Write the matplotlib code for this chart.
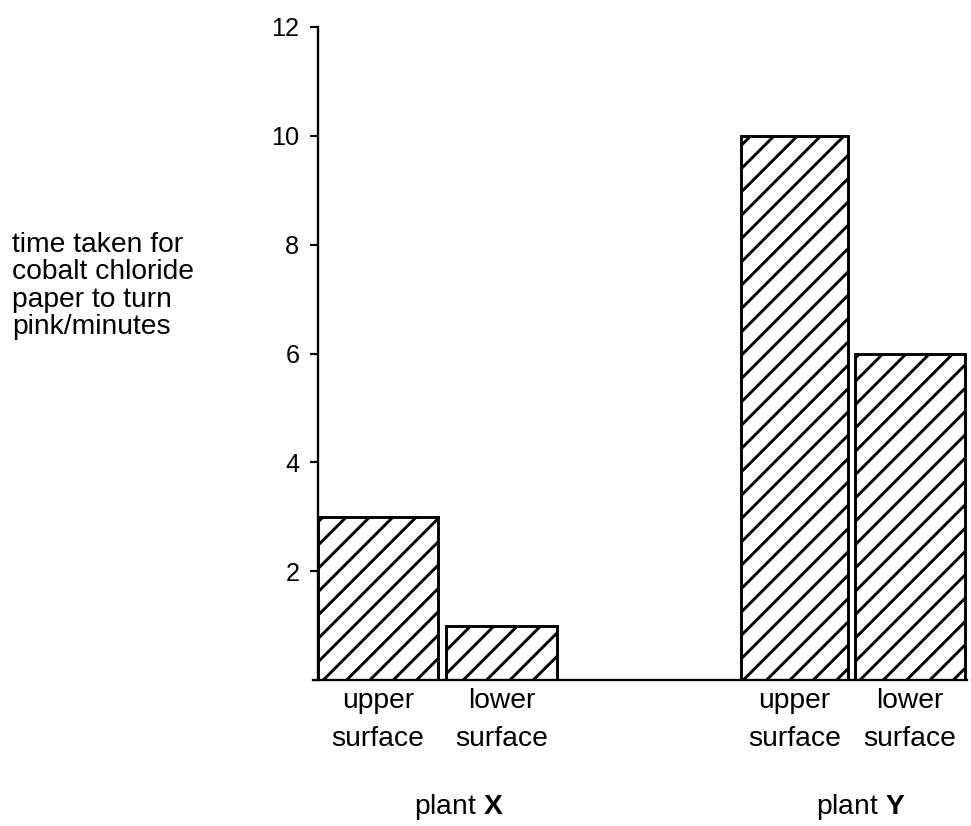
import matplotlib
matplotlib.use('Agg')
import matplotlib.pyplot as plt
import numpy as np

# data
groups = ['X', 'Y']
surfaces = ['upper\nsurface', 'lower\nsurface']
time_plant_x = [3, 1]
time_plant_y = [10, 6]
yticks = [2, 4, 6, 8, 10, 12]
ylabel = 'time taken for\ncobalt chloride\npaper to turn\npink/minutes'

plt.rcParams['font.family'] = ['Liberation Sans', 'DejaVu Sans']
plt.rcParams['mathtext.fontset'] = 'custom'
plt.rcParams['mathtext.rm'] = 'Liberation Sans'
plt.rcParams['mathtext.bf'] = 'Liberation Sans:bold'
plt.rcParams['hatch.linewidth'] = 1.5

dpi = 140
fig = plt.figure(figsize=(971 / dpi, 826 / dpi), dpi=dpi)
ax = fig.add_axes([313 / 971, 1 - 680 / 826, 654 / 971, 653 / 826])

# layout (hand drawn original, bars not quite even)
centers = [np.array([0.545, 1.668]), np.array([4.33, 5.38])]
widths = [[1.09, 1.01], [0.97, 1.0]]
label_shift = [0.17, 0.08]

pos = []
for g, vals in enumerate([time_plant_x, time_plant_y]):
    xs = centers[g]
    ax.bar(xs, vals, width=widths[g], facecolor='white', edgecolor='black',
           linewidth=1.5, hatch='//')
    pos.extend(xs)
    ax.text(xs.mean() + label_shift[g], -0.195, r'plant $\mathbf{' + groups[g] + '}$',
            transform=ax.get_xaxis_transform(), ha='center', va='center',
            fontsize=14.5)

ax.set_xticks(pos)
ax.set_xticklabels(surfaces * 2, fontsize=14.5, linespacing=1.6)
ax.tick_params(axis='x', length=0, pad=4)

ax.set_xlim(-0.045, 5.90)
ax.set_ylim(0, 12)
ax.set_yticks(yticks)
ax.tick_params(axis='y', direction='out', length=4, width=1.1, labelsize=13, pad=5.5)

ax.spines['top'].set_visible(False)
ax.spines['right'].set_visible(False)
ax.spines['left'].set_position(('data', 0))
ax.spines['left'].set_linewidth(1.2)
ax.spines['bottom'].set_linewidth(1.2)

fig.text(12 / 971, 1 - 286 / 826, ylabel, ha='left', va='center',
         fontsize=14.5, linespacing=1.07)

fig.savefig('out.png', dpi=dpi, facecolor='white')
